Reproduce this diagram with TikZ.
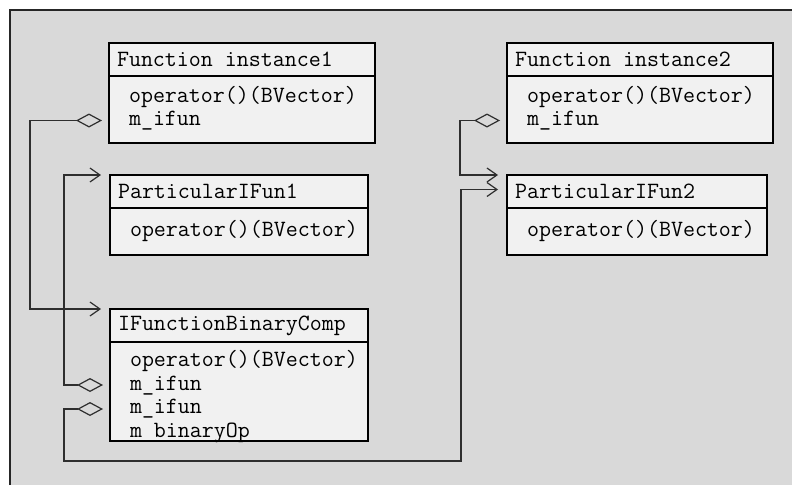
\documentclass[tikz,border=0pt]{standalone}
\usepackage{fontspec}
\usepackage{xcolor}
\usetikzlibrary{arrows.meta,positioning}

\definecolor{panelgray}{HTML}{D9D9D9}
\definecolor{boxfill}{HTML}{F1F1F1}
\definecolor{linegray}{HTML}{2E2E2E}

\newcommand{\umlfont}{\ttfamily\fontsize{23.3}{23.5}\selectfont}
\newcommand{\clsname}[1]{\hspace*{8pt}{\spaceskip=0pt\xspaceskip=0pt\relax #1}}
\newcommand{\members}[1]{\begin{tabular}{@{\hspace{20pt}}l@{}}#1\end{tabular}}

\begin{document}
\begin{tikzpicture}[x=1pt,y=1pt,
  umlbox/.style={draw=black,line width=1.8pt,fill=boxfill,anchor=north west,
    inner xsep=0pt,inner ysep=2pt,outer sep=0pt,align=left,font=\umlfont},
  clshead/.style={umlbox,text width=#1,minimum height=33pt},
  clsbody/.style={umlbox,text width=#1},
  aggr/.style={draw=linegray,line width=1.2pt,line join=miter,
    arrows={Diamond[open,length=26pt,width=14pt]-Straight Barb[length=10pt,width=14pt]}}]
\useasboundingbox (0,0) rectangle (792,-485);

% panel behind the classes
\fill[panelgray] (10,-10) rectangle (792,-485);
\draw[black!85,line width=1.6pt] (10,-485) -- (10,-10) -- (792,-10);

% left column
\node[clshead=266pt] (fi1) at (109,-43) {\clsname{Function instance1}};
\node[clsbody=266pt,minimum height=67pt] (fi1m) at (fi1.south west)
  {\members{operator()(BVector)\\m\_ifun}};

\node[clshead=258pt] (pf1) at (110,-175) {\clsname{ParticularIFun1}};
\node[clsbody=258pt,minimum height=47pt] (pf1m) at (pf1.south west)
  {\members{operator()(BVector)}};

\node[clshead=258pt] (bc) at (110,-309) {\clsname{IFunctionBinaryComp}};
\node[clsbody=258pt,minimum height=99pt] (bcm) at (bc.south west)
  {\raisebox{-6pt}[\height][\depth]{\members{operator()(BVector)\\m\_ifun\\m\_ifun\\m\_binaryOp}}};

% right column
\node[clshead=266pt] (fi2) at (507,-43) {\clsname{Function instance2}};
\node[clsbody=266pt,minimum height=67pt] (fi2m) at (fi2.south west)
  {\members{operator()(BVector)\\m\_ifun}};

\node[clshead=260pt] (pf2) at (507,-175) {\clsname{ParticularIFun2}};
\node[clsbody=260pt,minimum height=47pt] (pf2m) at (pf2.south west)
  {\members{operator()(BVector)}};

% aggregations (diamond at the owner, arrow at the target)
\coordinate (lowrun) at (461,-461);
\draw[aggr] ([xshift=-7pt,yshift=-11pt]fi1m.west) -- ++(-72,0) |- ([xshift=-9pt]bc.north west);
\draw[aggr] ([xshift=-7pt,yshift=6.5pt]bcm.west) -- ++(-39,0) |- ([xshift=-9pt]pf1.north west);
\draw[aggr] ([xshift=-7pt,yshift=-17.5pt]bcm.west) -- ++(-39,0) |- (lowrun) |- ([xshift=-9pt,yshift=2pt]pf2.west);
\draw[aggr] ([xshift=-7pt,yshift=-11pt]fi2m.west) -- ++(-40,0) |- ([xshift=-9pt]pf2.north west);
\end{tikzpicture}
\end{document}
